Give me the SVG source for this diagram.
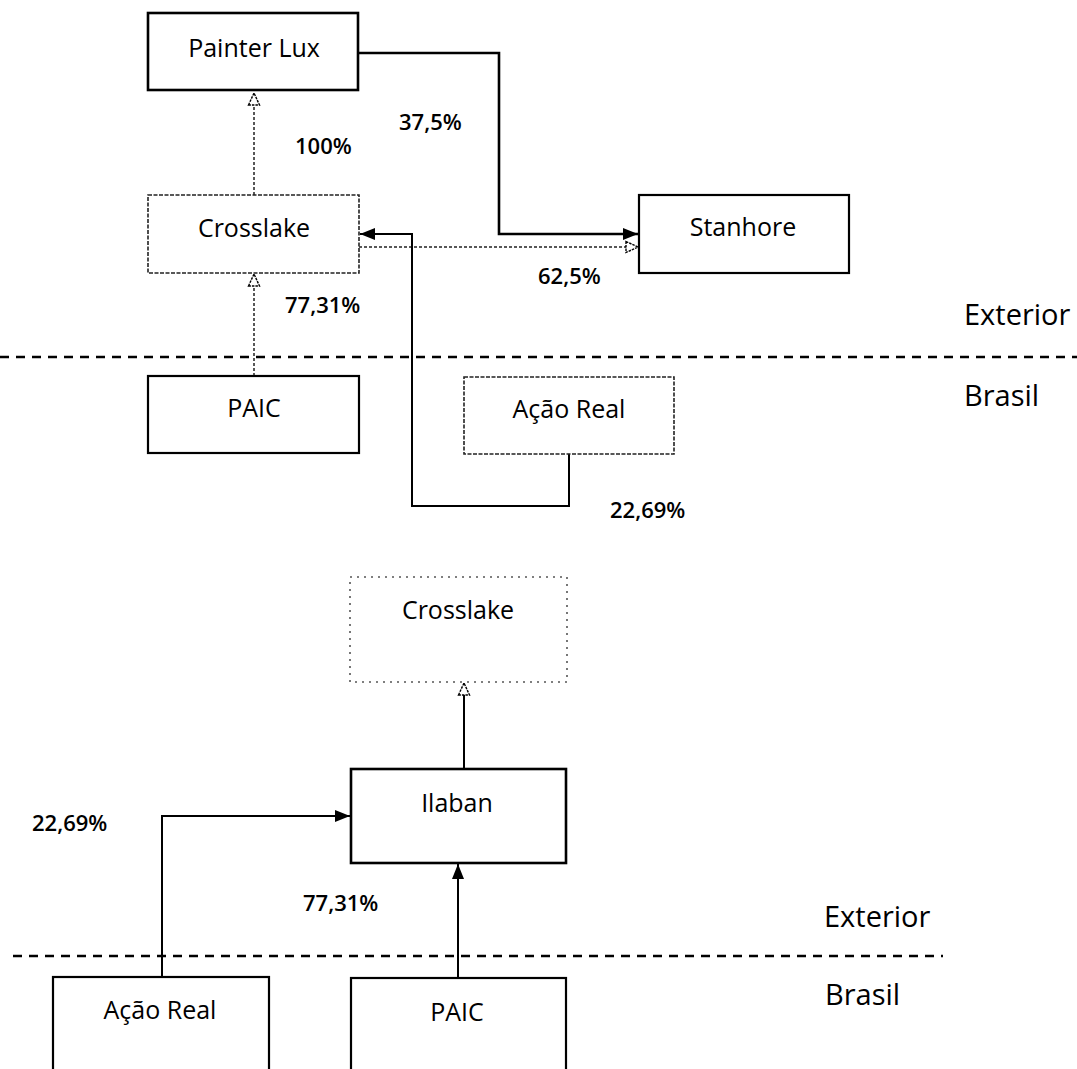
<svg xmlns="http://www.w3.org/2000/svg" width="1077" height="1069" viewBox="0 0 1077 1069">
<style>
.bg{fill:#fff}
.box{fill:#fff;stroke:#000;stroke-width:2.2}
.boxd{fill:#fff;stroke:#222;stroke-width:1.6;stroke-dasharray:4 1.5}
.boxf{fill:#fff;stroke:#555;stroke-width:1.6;stroke-dasharray:2 5}
.lbl{font-family:"Open Sans","Noto Sans",sans-serif;font-size:25px;fill:#000;text-anchor:middle}
.pct{font-family:"Open Sans","Noto Sans",sans-serif;font-size:22px;font-weight:600;fill:#000}
.zone{font-family:"Open Sans","Noto Sans",sans-serif;font-size:29px;fill:#000}
.sep{stroke:#000;stroke-width:2.6;stroke-dasharray:9 7;fill:none}
.c{fill:none;stroke:#000;stroke-width:2}
.cs{fill:none;stroke:#000;stroke-width:2.6}
.cd{fill:none;stroke:#222;stroke-width:1.5;stroke-dasharray:3 2}
</style>
<defs>
<marker id="fill" markerWidth="16" markerHeight="14" refX="15" refY="7" orient="auto" markerUnits="userSpaceOnUse">
<path d="M0,1 L15,7 L0,13 z" fill="#000"/>
</marker>
<marker id="hollow" markerWidth="14" markerHeight="14" refX="13" refY="7" orient="auto" markerUnits="userSpaceOnUse">
<path d="M1,1.5 L13,7 L1,12.5 z" fill="#fff" stroke="#000" stroke-width="1.4" stroke-dasharray="2.5 1"/>
</marker>
</defs>
<rect class="bg" x="0" y="0" width="1077" height="1069"/>

<g id="separators">
<line class="sep" x1="0" y1="357" x2="1077" y2="357"/>
<line class="sep" x1="13" y1="956" x2="943" y2="956"/>
</g>

<g id="connectors">
<path class="cd" d="M254,195 L254,93" marker-end="url(#hollow)"/>
<path class="cd" d="M254,376 L254,274" marker-end="url(#hollow)"/>
<path class="cs" d="M358,53 L499,53 L499,234 L638,234" marker-end="url(#fill)"/>
<path class="cd" d="M359,247 L638,247" marker-end="url(#hollow)"/>
<path class="c" d="M569,454 L569,506 L412,506 L412,234 L360,234" marker-end="url(#fill)"/>
<path class="c" d="M464,768 L464,683" marker-end="url(#hollow)"/>
<path class="c" d="M162,977 L162,816 L350,816" marker-end="url(#fill)"/>
<path class="c" d="M458,978 L458,864" marker-end="url(#fill)"/>
</g>

<g id="painter-lux">
<rect class="box" x="148" y="13" width="210" height="77" style="stroke-width:2.6"/>
<text class="lbl" x="254" y="57">Painter Lux</text>
</g>
<g id="crosslake-top">
<rect class="boxd" x="148" y="195" width="211" height="78"/>
<text class="lbl" x="254" y="237">Crosslake</text>
</g>
<g id="stanhore">
<rect class="box" x="639" y="195" width="210" height="78"/>
<text class="lbl" x="743" y="236">Stanhore</text>
</g>
<g id="paic-top">
<rect class="box" x="148" y="376" width="211" height="77"/>
<text class="lbl" x="254" y="417">PAIC</text>
</g>
<g id="acao-real-top">
<rect class="boxd" x="464" y="377" width="210" height="77"/>
<text class="lbl" x="569" y="418">Ação Real</text>
</g>
<g id="crosslake-bottom">
<rect class="boxf" x="350" y="577" width="217" height="105"/>
<text class="lbl" x="458" y="619">Crosslake</text>
</g>
<g id="ilaban">
<rect class="box" x="351" y="769" width="215" height="94" style="stroke-width:2.6"/>
<text class="lbl" x="457" y="812">Ilaban</text>
</g>
<g id="acao-real-bottom">
<rect class="box" x="53" y="977" width="216" height="110"/>
<text class="lbl" x="160" y="1019">Ação Real</text>
</g>
<g id="paic-bottom">
<rect class="box" x="351" y="978" width="215" height="110"/>
<text class="lbl" x="457" y="1021">PAIC</text>
</g>

<g id="labels">
<text class="pct" x="295" y="154">100%</text>
<text class="pct" x="399" y="130">37,5%</text>
<text class="pct" x="538" y="284">62,5%</text>
<text class="pct" x="285" y="313">77,31%</text>
<text class="pct" x="610" y="518">22,69%</text>
<text class="pct" x="32" y="831">22,69%</text>
<text class="pct" x="303" y="911">77,31%</text>
<text class="zone" x="964" y="325">Exterior</text>
<text class="zone" x="964" y="406">Brasil</text>
<text class="zone" x="824" y="927">Exterior</text>
<text class="zone" x="825" y="1005">Brasil</text>
</g>
</svg>
